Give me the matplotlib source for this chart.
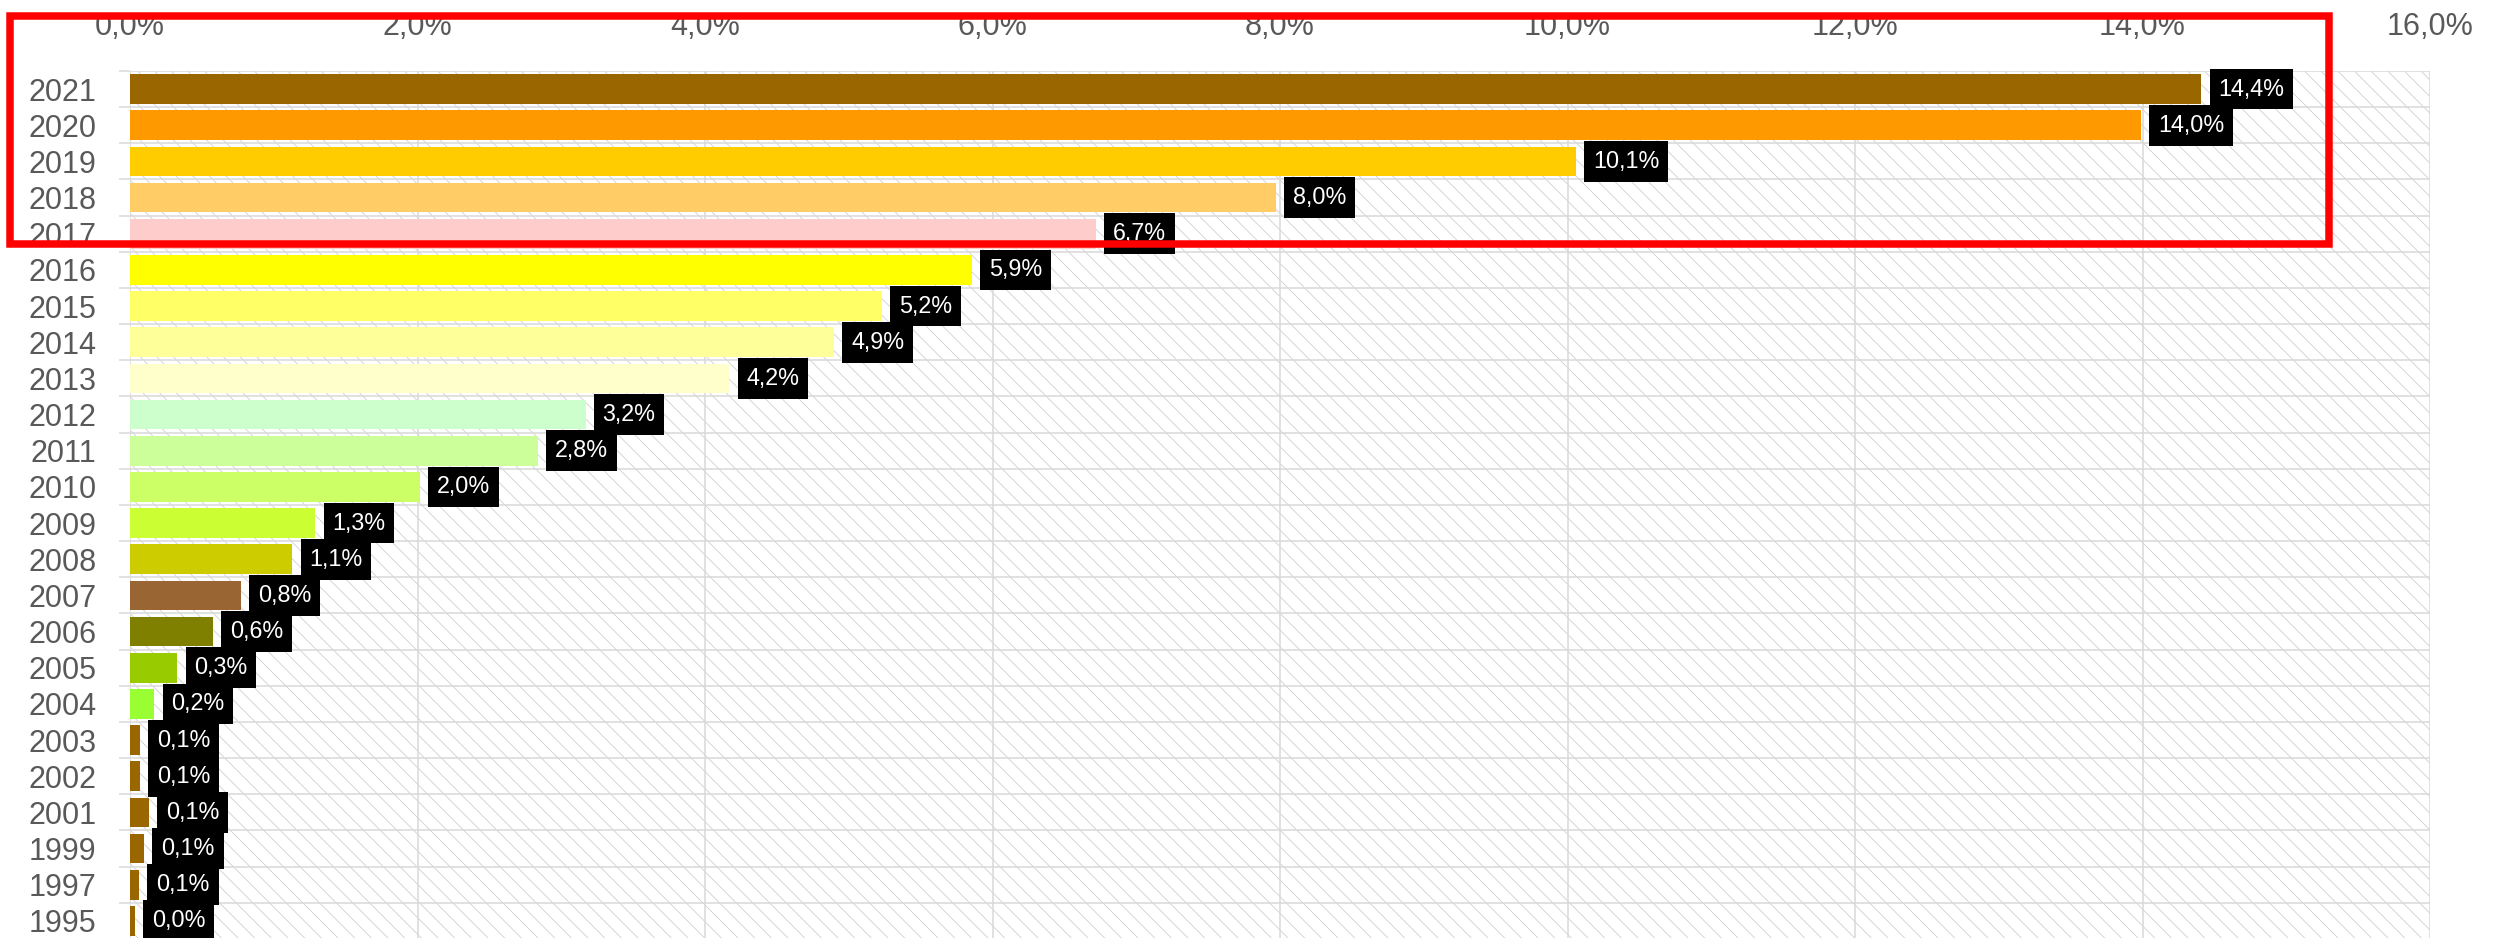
import numpy as np
import matplotlib
matplotlib.use("Agg")
import matplotlib.pyplot as plt
from matplotlib.patches import Rectangle
from matplotlib.ticker import FuncFormatter

plt.rcParams['font.family'] = ['Liberation Sans', 'DejaVu Sans']
plt.rcParams['hatch.linewidth'] = 0.6

# share per year (%), top to bottom as in the chart
years = ['2021', '2020', '2019', '2018', '2017', '2016', '2015', '2014',
         '2013', '2012', '2011', '2010', '2009', '2008', '2007', '2006',
         '2005', '2004', '2003', '2002', '2001', '1999', '1997', '1995']
shares = [14.41, 13.99, 10.06, 7.97, 6.72, 5.86, 5.23, 4.90,
          4.17, 3.17, 2.84, 2.02, 1.29, 1.13, 0.77, 0.58,
          0.33, 0.17, 0.07, 0.07, 0.13, 0.10, 0.065, 0.035]
colors = ['#996600', '#ff9900', '#ffcc00', '#ffcc66', '#ffcccc', '#ffff00',
          '#ffff66', '#ffff99', '#ffffcc', '#ccffcc', '#ccff99', '#ccff66',
          '#ccff33', '#cccc00', '#996633', '#808000', '#99cc00', '#99ff33',
          '#996600', '#996600', '#996600', '#996600', '#996600', '#996600']

W, H = 2499, 938
fig = plt.figure(figsize=(W / 100, H / 100), dpi=100)
ax = fig.add_axes([130 / W, -0.001, (2430 - 130) / W, 1.001 - 71 / H])

grid_c = '#d9d9d9'
text_c = '#595959'

# hatched plot area
ax.add_patch(Rectangle((0, 0), 1, 1, transform=ax.transAxes, facecolor='white',
                       edgecolor='#d0d0d0', linewidth=0, hatch='\\\\', zorder=0))

y = np.arange(len(years))
ax.barh(y, shares, height=0.82, color=colors, zorder=3)

for yi, v in zip(y, shares):
    lbl = f"{v:.1f}".replace('.', ',') + '%'
    ax.annotate(lbl, xy=(v, yi), xytext=(12.2, 0), textcoords='offset points',
                ha='left', va='center', color='white', fontsize=16.8, zorder=5,
                bbox=dict(boxstyle='square,pad=0.38', fc='black', ec='none'))

ax.set_xlim(0, 16)
ax.set_ylim(len(years) - 0.5, -0.5)
ax.set_xticks(np.arange(0, 17, 2))
ax.xaxis.set_major_formatter(FuncFormatter(lambda x, p: f"{x:.1f}".replace('.', ',') + '%'))
ax.xaxis.tick_top()
ax.tick_params(axis='x', length=0, pad=21, labelsize=22, labelcolor=text_c)

ax.set_yticks(y)
ax.set_yticklabels(years)
ax.set_yticks(np.arange(-0.5, len(years), 1), minor=True)
ax.tick_params(axis='y', which='major', length=0, pad=24, labelsize=22, labelcolor=text_c)
ax.tick_params(axis='y', which='minor', length=8, width=1.1, color=grid_c)

ax.grid(axis='x', which='major', color=grid_c, linewidth=1.1, zorder=1)
ax.grid(axis='y', which='minor', color=grid_c, linewidth=1.1, zorder=1)
ax.set_axisbelow(True)
for s in ax.spines.values():
    s.set_visible(False)

# red highlight frame
x0, x1, y0, y1 = 9.5, 2329, 16.3, 244
fig.add_artist(Rectangle((x0 / W, 1 - y1 / H), (x1 - x0) / W, (y1 - y0) / H,
                         transform=fig.transFigure, fill=False,
                         edgecolor='#ff0000', linewidth=5.4, zorder=10))

fig.savefig('out.png', dpi=100)
